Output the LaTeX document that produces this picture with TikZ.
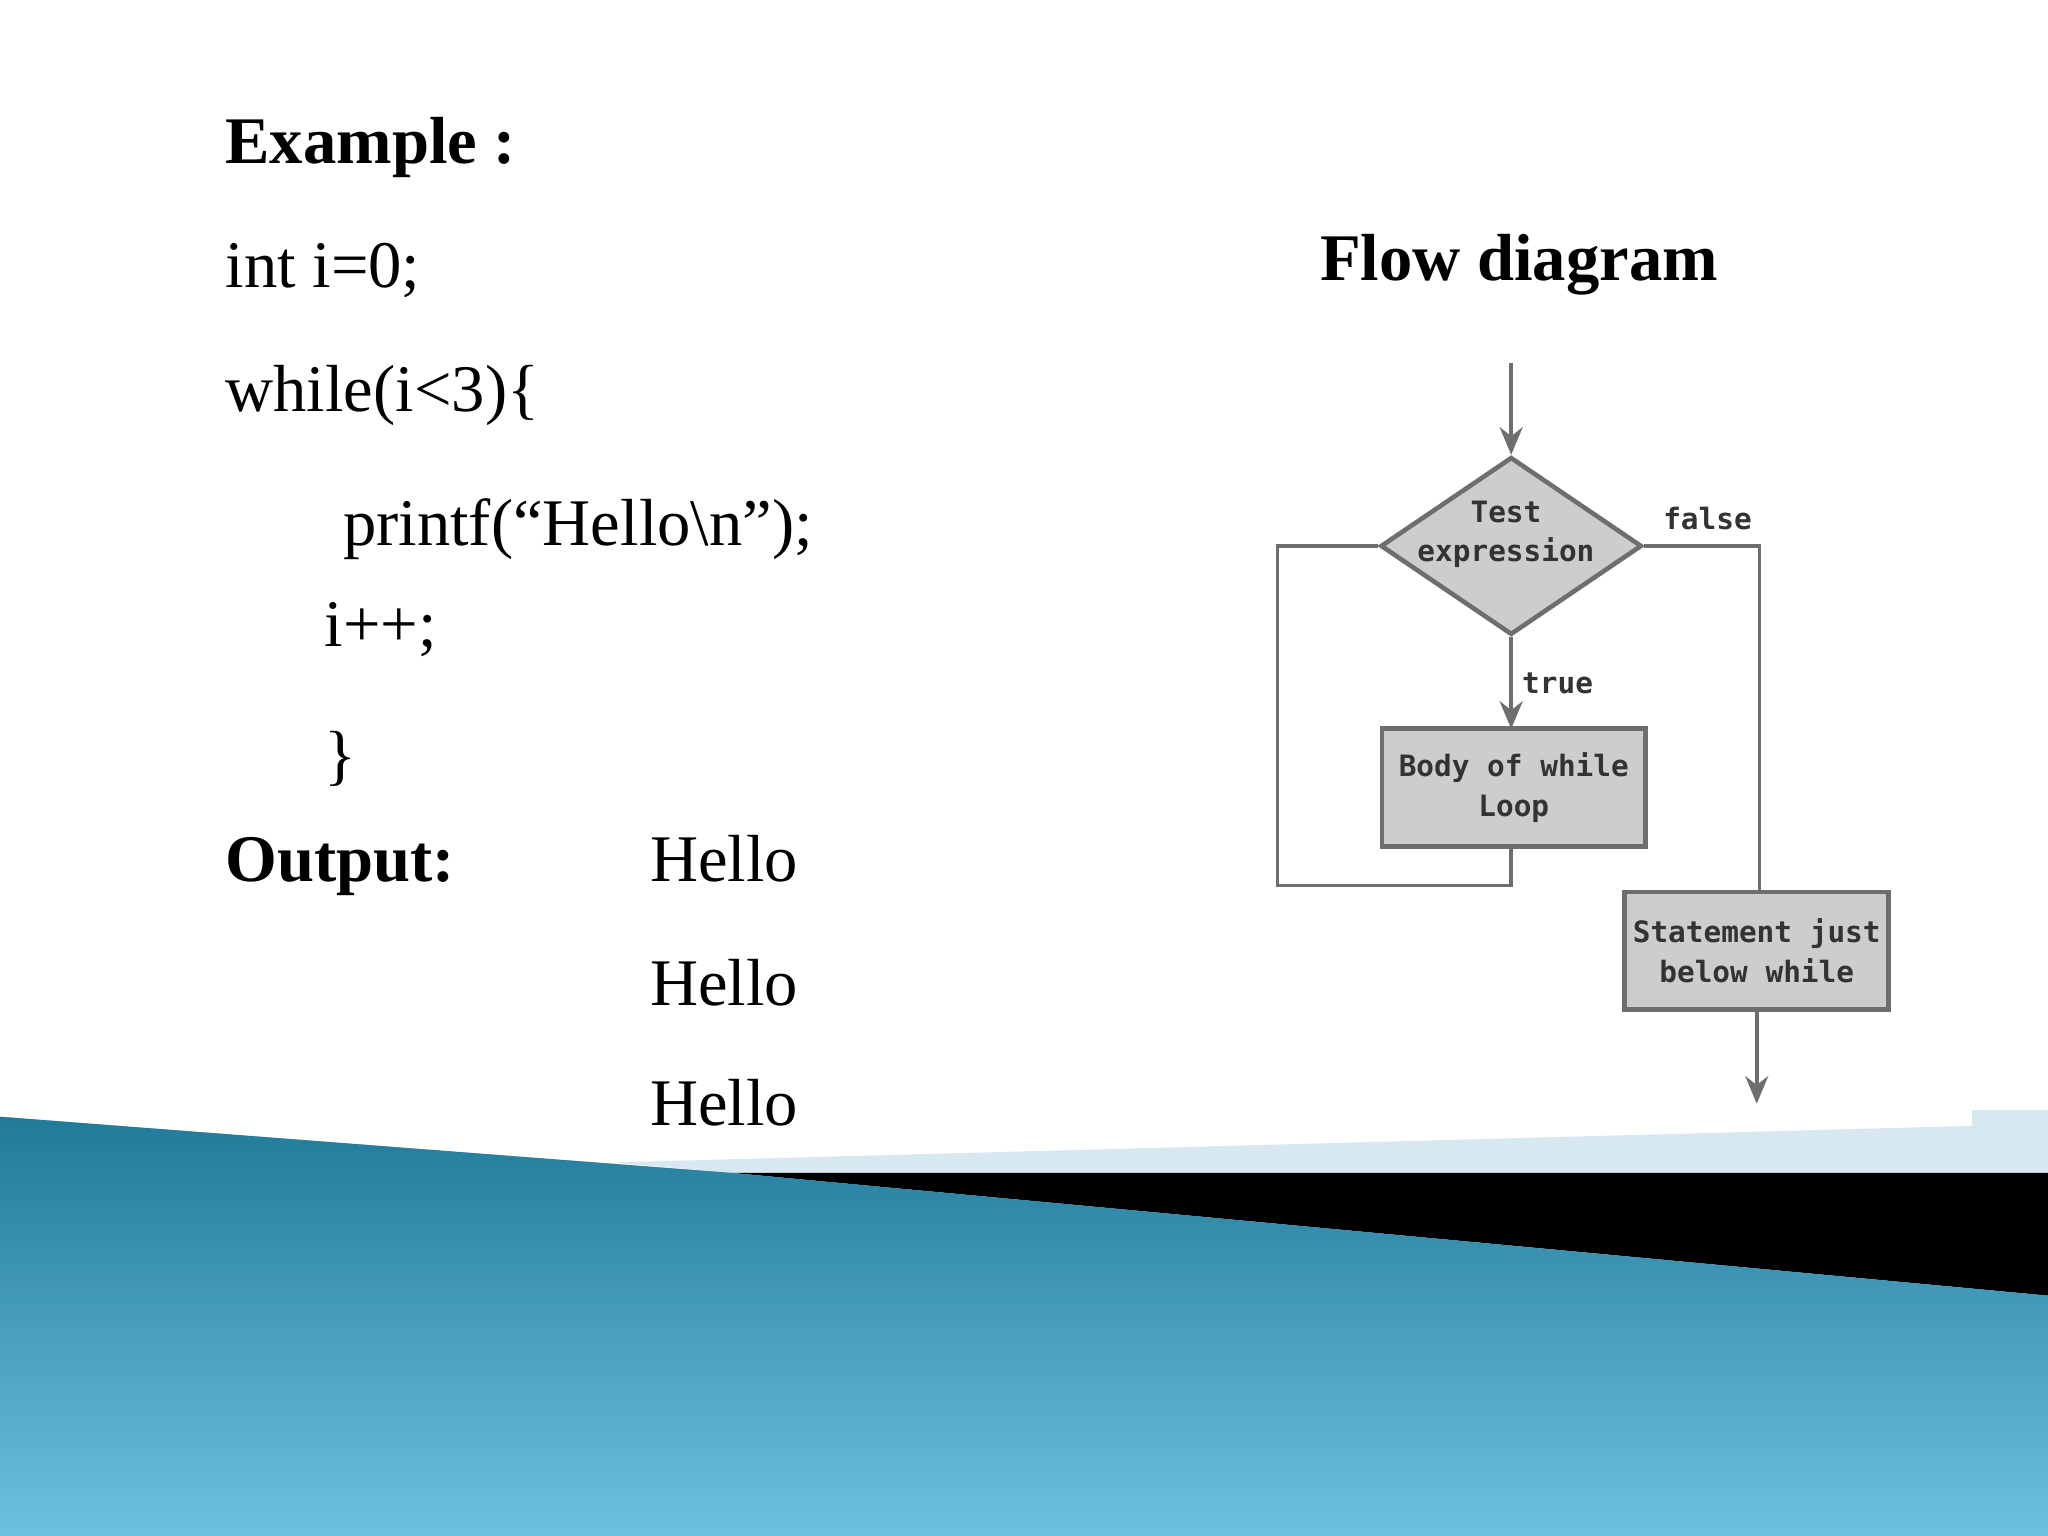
\documentclass[tikz,border=0pt]{standalone}
\usepackage{fontspec}
\setmainfont{Liberation Serif}
\newfontfamily\monof{DejaVu Sans Mono}
\usetikzlibrary{shapes.geometric,arrows.meta}
\definecolor{fgray}{HTML}{CDCDCD}
\definecolor{egray}{HTML}{6E6E6E}
\definecolor{deepb}{HTML}{146A8A}
\definecolor{lightb}{HTML}{5BBBDC}
\definecolor{stripb}{HTML}{D8E8F0}
\begin{document}
\begin{tikzpicture}[x=0.01cm,y=-0.01cm,
  big/.style={font=\fontsize{14.5pt}{17pt}\selectfont,anchor=base west,inner sep=0},
  bigb/.style={big,font=\fontsize{14.5pt}{17pt}\selectfont\bfseries},
  lab/.style={font=\monof\bfseries\fontsize{6.4pt}{8.6pt}\selectfont,text=black!80,align=center},
  box/.style={lab,draw=egray,fill=fgray,line width=1pt,minimum width=2.02cm,minimum height=0.9cm,inner sep=0},
  ln/.style={draw=egray,line width=0.8pt},
  arr/.style={ln,-{Stealth[length=6pt,width=5pt]}}]
\useasboundingbox (0,0) rectangle (1568,1176);
\fill[white] (0,0) rectangle (1568,1176);
% background band
\fill[stripb] (470,890) -- (1510,862) -- (1510,850) -- (1568,850) -- (1568,898) -- (560,898) -- cycle;
\fill[black] (560,898) -- (1568,898) -- (1568,992) -- cycle;
\shade[left color=deepb,right color=lightb,shading angle=0] (0,855) -- (560,898) -- (1568,992) -- (1568,1176) -- (0,1176) -- cycle;
\shade[top color=deepb!60!lightb,bottom color=lightb!80!white,opacity=0.5] (0,855) -- (560,898) -- (1568,992) -- (1568,1176) -- (0,1176) -- cycle;
% code text
\node[bigb] (ex) at (172,125) {Example :};
\node[big] (l1) at (172,220) {int i=0;};
\node[big] (l2) at (172,315) {while(i<3)\{};
\node[big] (l3) at (262,418) {printf(“Hello\textbackslash n”);};
\node[big] (l4) at (248,495) {i++;};
\node[big] (l5) at (248,595) {\}};
\node[bigb] (out) at (172,675) {Output:};
\node[big] (h1) at (497,675) {Hello};
\node[big] (h2) at (497,770) {Hello};
\node[big] (h3) at (497,862) {Hello};
\node[bigb] (fd) at (1010,215) {Flow diagram};
% flowchart
\coordinate (start) at (1157,278);
\node[diamond,draw=egray,fill=fgray,line width=1pt,minimum width=2.0cm,minimum height=1.36cm,inner sep=0] (test) at (1157,418) {};
\node[lab] at (1153,409) {Test\\expression};
\node[box] (body) at (1159,603) {Body of while\\Loop};
\node[box] (stmt) at (1345,728) {Statement just\\below while};
\coordinate (end) at (1345,845);
\draw[arr] (start) -- (test.north);
\draw[arr] (test.south) -- node[lab,right,inner sep=2pt] {true} (1157,558);
\draw[ln] (1157,648) -- (1157,678) -- (978,678) -- (978,418) -- (test.west);
\draw[ln] (test.east) -- node[lab,above,pos=0.55,inner sep=3pt] {false} (1347,418) -- (1347,683);
\draw[arr] (stmt.south) -- (end);
\end{tikzpicture}
\end{document}
